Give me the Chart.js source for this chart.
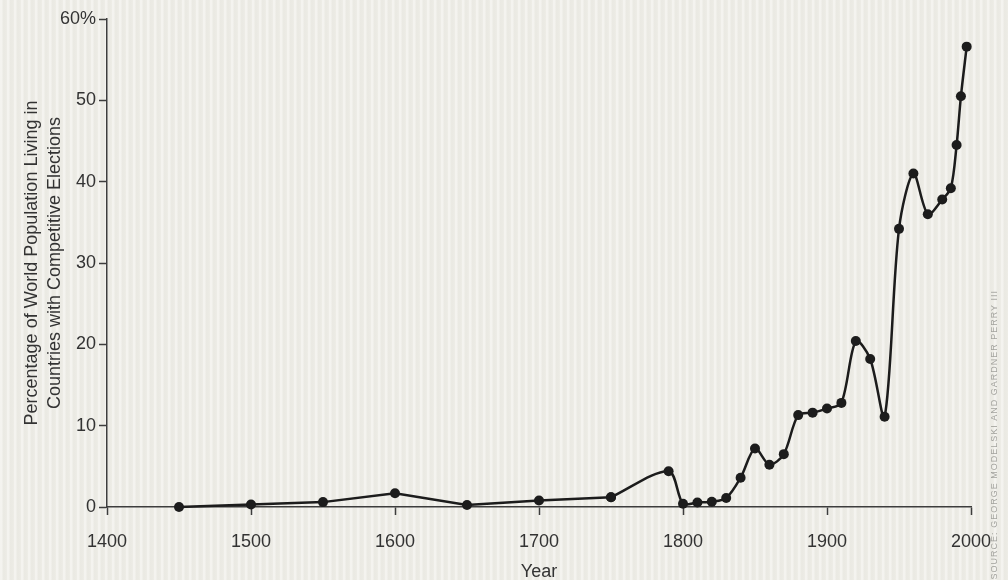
<!DOCTYPE html>
<html>
<head>
<meta charset="utf-8">
<script src="https://cdn.jsdelivr.net/npm/chart.js@4/dist/chart.umd.min.js"></script>
<style>
    html, body { margin: 0; padding: 0; }
    body {
        width: 1008px; height: 580px; overflow: hidden;
        background-color: #eeede7;
        background-image: repeating-linear-gradient(90deg,
            rgba(255,255,255,0.35) 0px, rgba(255,255,255,0.35) 2px,
            rgba(205,205,195,0.10) 3px, rgba(205,205,195,0.10) 5px,
            rgba(255,255,255,0) 7px);
    }
    #wrap { position: relative; width: 1008px; height: 580px; }
</style>
</head>
<body>
<div id="wrap"><canvas id="chart-line"></canvas></div>
<script>
    // years with a data point, and the share of world population (%)
    var years = [1450, 1500, 1550, 1600, 1650, 1700, 1750, 1790, 1800, 1810, 1820, 1830,
                 1840, 1850, 1860, 1870, 1880, 1890, 1900, 1910, 1920, 1930, 1940,
                 1950, 1960, 1970, 1980, 1986, 1990, 1993, 1997];
    var pct = [0, 0.3, 0.6, 1.7, 0.25, 0.8, 1.2, 4.4, 0.4, 0.55, 0.65, 1.1,
               3.6, 7.2, 5.2, 6.5, 11.3, 11.6, 12.1, 12.8, 20.4, 18.2, 11.1,
               34.2, 41.0, 36.0, 37.8, 39.2, 44.5, 50.5, 56.6];
    var yTicks = [0, 10, 20, 30, 40, 50, 60];
    var yTitle = ["Percentage of World Population Living in", "Countries with Competitive Elections"];
    var xTitle = "Year";
    var sourceNote = "SOURCE: GEORGE MODELSKI AND GARDNER PERRY III";
    // the early centuries are joined by straight lines, the modern part is smoothed
    var splitYear = 1750;

    var ink = "#1c1c1c";
    var axisColor = "#3d3d3d";
    var textColor = "#333333";
    var fontFamily = "'Liberation Sans', Arial, Helvetica, sans-serif";

    var points = years.map(function (y, i) { return {x: y, y: pct[i]}; });
    var early = points.filter(function (p) { return p.x <= splitYear; });
    var modern = points.filter(function (p) { return p.x >= splitYear; });

    function lineSet(data, tension) {
        return {
            data: data,
            borderColor: ink,
            borderWidth: 2.5,
            tension: tension,
            pointRadius: 5,
            pointBackgroundColor: ink,
            pointBorderColor: ink,
            pointBorderWidth: 0,
            fill: false,
            clip: false
        };
    }

    // faint credit line printed up the right edge
    var sourcePlugin = {
        id: 'sourceNote',
        afterDraw: function (chart) {
            var c = chart.ctx;
            c.save();
            c.translate(995, 290);
            c.rotate(-Math.PI / 2);
            c.font = "9px " + fontFamily;
            c.fillStyle = "#a3a39e";
            c.textAlign = "right";
            c.textBaseline = "middle";
            if ('letterSpacing' in c) { c.letterSpacing = "1px"; }
            c.fillText(sourceNote, 0, 0);
            c.restore();
        }
    };

    Chart.defaults.font.family = fontFamily;
    var ctx = document.getElementById("chart-line").getContext("2d");
    new Chart(ctx, {
        type: 'line',
        data: {
            datasets: [lineSet(early, 0), lineSet(modern, 0.3)]
        },
        options: {
            responsive: true,
            maintainAspectRatio: false,
            animation: false,
            layout: {
                padding: {top: 19, right: 37, bottom: 0, left: 0}
            },
            plugins: {
                legend: {display: false},
                tooltip: {enabled: false}
            },
            scales: {
                x: {
                    type: 'linear',
                    min: 1400,
                    max: 2000,
                    afterFit: function (scale) { scale.height = 73; },
                    border: {display: true, color: axisColor, width: 1.5},
                    grid: {
                        display: true,
                        drawOnChartArea: false,
                        drawTicks: true,
                        tickLength: 8,
                        tickWidth: 1.5,
                        tickColor: axisColor
                    },
                    ticks: {
                        stepSize: 100,
                        padding: 16,
                        color: textColor,
                        maxRotation: 0,
                        font: {size: 18},
                        callback: function (v) { return String(v); }
                    },
                    title: {
                        display: true,
                        text: xTitle,
                        color: textColor,
                        font: {size: 18},
                        padding: {top: 0, bottom: -3}
                    }
                },
                y: {
                    min: 0,
                    max: 60,
                    afterFit: function (scale) { scale.width = 107; },
                    afterBuildTicks: function (scale) {
                        scale.ticks = yTicks.map(function (v) { return {value: v}; });
                    },
                    border: {display: true, color: axisColor, width: 1.5},
                    grid: {
                        display: true,
                        drawOnChartArea: false,
                        drawTicks: true,
                        tickLength: 8,
                        tickWidth: 1.5,
                        tickColor: axisColor
                    },
                    ticks: {
                        padding: 3,
                        color: textColor,
                        font: {size: 18},
                        callback: function (v) { return v === 60 ? "60%" : String(v); }
                    },
                    title: {
                        display: true,
                        text: yTitle,
                        color: textColor,
                        font: {size: 18, lineHeight: 1.3},
                        padding: {top: 20, bottom: 0}
                    }
                }
            }
        },
        plugins: [sourcePlugin]
    });
</script>
</body>
</html>
